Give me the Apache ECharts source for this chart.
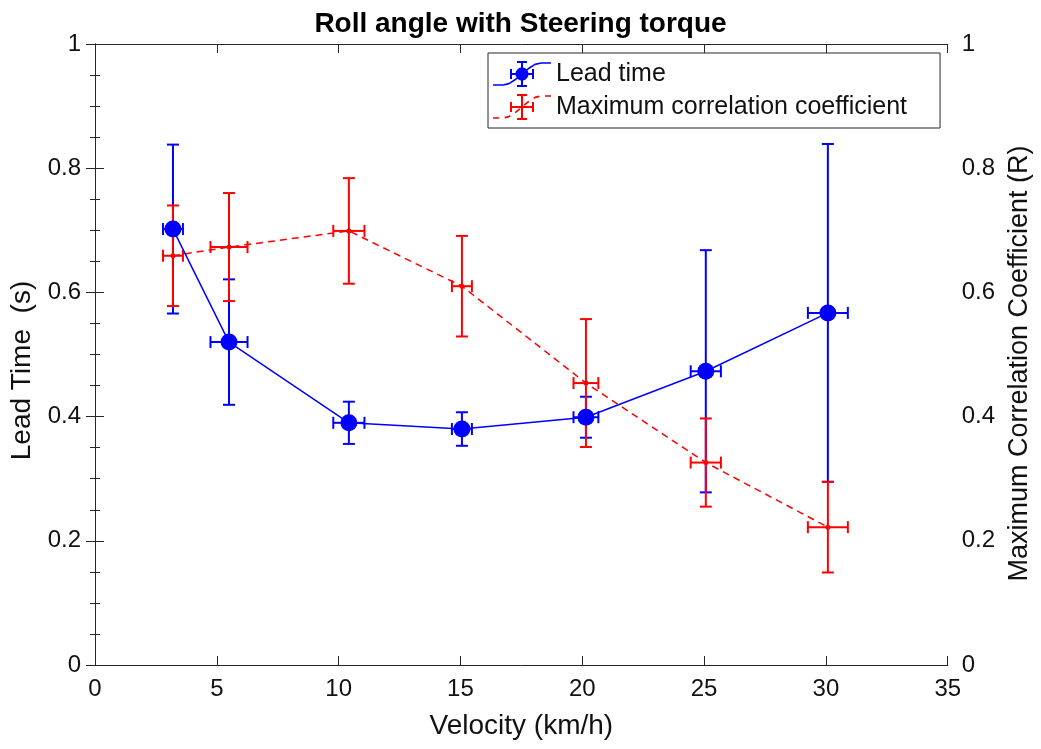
<!DOCTYPE html>
<html>
<head>
<meta charset="utf-8">
<script src="https://cdn.jsdelivr.net/npm/echarts@6/dist/echarts.min.js"></script>
<style>
  html, body { margin: 0; padding: 0; background: #fff; }
  #chart { width: 1041px; height: 749px; }
</style>
</head>
<body>
<div id="chart"></div>
<script>
// Mean velocity of each trial group (km/h) and its spread
const velocity = [3.2, 5.5, 10.42, 15.06, 20.15, 25.07, 30.08];
const velocityErr = [0.41, 0.76, 0.64, 0.41, 0.51, 0.62, 0.82];

// Lead time of roll angle relative to steering torque (s)
const leadTime = [0.702, 0.520, 0.390, 0.380, 0.399, 0.473, 0.567];
const leadTimeErr = [0.136, 0.101, 0.034, 0.027, 0.033, 0.195, 0.272];

// Maximum correlation coefficient R
const corrR = [0.659, 0.673, 0.699, 0.610, 0.454, 0.326, 0.222];
const corrRErr = [0.081, 0.087, 0.085, 0.081, 0.103, 0.071, 0.073];

const BLUE = '#0000ff';
const RED = '#ff0000';
const AXIS = '#262626';
const FONT = '"Liberation Sans", Arial, sans-serif';

function pairs(xs, ys) { return xs.map((x, i) => [x, ys[i]]); }
function errRows(xs, xe, ys, ye) { return xs.map((x, i) => [x, ys[i], xe[i], ye[i]]); }

// ---- legend glyphs: errorbar-style icons built as filled paths ----
function polyPath(pts) {
  // keep every sub-path clockwise (screen coords) so the nonzero fill unions them
  let area = 0;
  for (let i = 0; i < pts.length; i++) {
    const a = pts[i], b = pts[(i + 1) % pts.length];
    area += a[0] * b[1] - b[0] * a[1];
  }
  const p = area < 0 ? pts.slice().reverse() : pts;
  return 'M' + p.map(q => q[0].toFixed(2) + ' ' + q[1].toFixed(2)).join(' L') + ' Z ';
}
function rectPath(x, y, w, h) { return polyPath([[x, y], [x + w, y], [x + w, y + h], [x, y + h]]); }
function circlePath(cx, cy, r) {
  const pts = [];
  for (let i = 0; i < 32; i++) {
    const t = i / 32 * Math.PI * 2;
    pts.push([cx + r * Math.cos(t), cy + r * Math.sin(t)]);
  }
  return polyPath(pts);
}
function strokePolyline(pts, w) {
  let d = '';
  for (let i = 0; i < pts.length - 1; i++) {
    const p = pts[i], q = pts[i + 1];
    const dx = q[0] - p[0], dy = q[1] - p[1], len = Math.hypot(dx, dy);
    if (len < 1e-6) continue;
    const nx = -dy / len * w / 2, ny = dx / len * w / 2;
    d += polyPath([[p[0] + nx, p[1] + ny], [q[0] + nx, q[1] + ny], [q[0] - nx, q[1] - ny], [p[0] - nx, p[1] - ny]]);
  }
  return d;
}
function pointAt(pts, s) {
  for (let i = 0; i < pts.length - 1; i++) {
    const p = pts[i], q = pts[i + 1];
    const len = Math.hypot(q[0] - p[0], q[1] - p[1]);
    if (s <= len || i === pts.length - 2) {
      const t = Math.min(1, s / len);
      return [p[0] + (q[0] - p[0]) * t, p[1] + (q[1] - p[1]) * t];
    }
    s -= len;
  }
}
function subPolyline(pts, s0, s1) {
  const out = [pointAt(pts, s0)];
  let acc = 0;
  for (let i = 0; i < pts.length - 1; i++) {
    acc += Math.hypot(pts[i + 1][0] - pts[i][0], pts[i + 1][1] - pts[i][1]);
    if (acc > s0 && acc < s1) out.push(pts[i + 1]);
  }
  out.push(pointAt(pts, s1));
  return out;
}
function dashedPolyline(pts, w, dash, count) {
  let total = 0;
  for (let i = 0; i < pts.length - 1; i++) total += Math.hypot(pts[i + 1][0] - pts[i][0], pts[i + 1][1] - pts[i][1]);
  const gap = (total - count * dash) / (count - 1);
  let d = '';
  for (let k = 0; k < count; k++) {
    const s0 = k * (dash + gap);
    d += strokePolyline(subPolyline(pts, s0, s0 + dash), w);
  }
  return d;
}
const sCurve = [[0, 25], [10, 25], [16, 23.6], [22, 19.8], [29, 14], [36, 8.2], [42, 4.4], [48, 3], [58, 3]];
function crossBars() {
  return rectPath(28, 1, 2, 26) + rectPath(24, 1, 10, 2) + rectPath(24, 25, 10, 2) +
         rectPath(17, 13, 24, 2) + rectPath(17, 9, 2, 10) + rectPath(39, 9, 2, 10);
}
const leadIcon = 'path://' + strokePolyline(sCurve, 1.6) + crossBars() + circlePath(29, 14, 6.5);
const corrIcon = 'path://' + dashedPolyline(sCurve, 1.6, 6, 6) + crossBars() + circlePath(29, 14, 1.8);

// Cross-shaped error bars with caps on all four ends
function errorBarRenderer(color) {
  return function (params, api) {
    const x = api.value(0), y = api.value(1), xe = api.value(2), ye = api.value(3);
    const top = api.coord([x, y + ye]);
    const bot = api.coord([x, y - ye]);
    const lft = api.coord([x - xe, y]);
    const rgt = api.coord([x + xe, y]);
    const cap = 6;
    const st = { stroke: color, lineWidth: 2 };
    const seg = (x1, y1, x2, y2) => ({ type: 'line', shape: { x1, y1, x2, y2 }, style: st });
    return {
      type: 'group',
      children: [
        seg(top[0], top[1], bot[0], bot[1]),
        seg(top[0] - cap, top[1], top[0] + cap, top[1]),
        seg(bot[0] - cap, bot[1], bot[0] + cap, bot[1]),
        seg(lft[0], lft[1], rgt[0], rgt[1]),
        seg(lft[0], lft[1] - cap, lft[0], lft[1] + cap),
        seg(rgt[0], rgt[1] - cap, rgt[0], rgt[1] + cap)
      ]
    };
  };
}

const yAxisBase = {
  type: 'value', min: 0, max: 1, interval: 0.2,
  splitLine: { show: false },
  axisLine: { show: true, lineStyle: { color: AXIS, width: 1 } },
  axisTick: { show: true, inside: true, length: 9, lineStyle: { color: AXIS } },
  minorTick: { show: true, splitNumber: 4, length: 5, lineStyle: { color: AXIS } },
  axisLabel: { fontFamily: FONT, fontSize: 24, color: '#111', margin: 14,
               formatter: v => String(+v.toFixed(1)) },
  nameLocation: 'middle', nameRotate: 90
};

const chart = echarts.init(document.getElementById('chart'), null, { renderer: 'canvas' });
chart.setOption({
  animation: false,
  backgroundColor: '#fff',
  title: {
    text: 'Roll angle with Steering torque',
    left: 'center', top: 5,
    textStyle: { fontFamily: FONT, fontSize: 28, fontWeight: 'bold', color: '#000' }
  },
  legend: {
    left: 488, top: 53,
    orient: 'vertical',
    data: [
      { name: 'Lead time', icon: leadIcon },
      { name: 'Maximum correlation coefficient', icon: corrIcon }
    ],
    itemWidth: 58, itemHeight: 28, itemGap: 3,
    padding: [6, 33, 6, 5],
    borderColor: AXIS, borderWidth: 1, backgroundColor: '#fff',
    textStyle: { fontFamily: FONT, fontSize: 25, color: '#111', lineHeight: 30 }
  },
  grid: { left: 95, right: 93, top: 44, bottom: 84, containLabel: false },
  xAxis: [
    {
      type: 'value', min: 0, max: 35, interval: 5, position: 'bottom',
      splitLine: { show: false },
      axisLine: { show: true, onZero: false, lineStyle: { color: AXIS, width: 1 } },
      axisTick: { show: true, inside: true, length: 9, lineStyle: { color: AXIS } },
      axisLabel: { fontFamily: FONT, fontSize: 24, color: '#111', margin: 12 },
      name: 'Velocity (km/h)', nameLocation: 'middle', nameGap: 47,
      nameTextStyle: { fontFamily: FONT, fontSize: 28, color: '#111' }
    },
    {
      type: 'value', min: 0, max: 35, interval: 5, position: 'top',
      splitLine: { show: false },
      axisLine: { show: true, onZero: false, lineStyle: { color: AXIS, width: 1 } },
      axisTick: { show: true, inside: true, length: 9, lineStyle: { color: AXIS } },
      axisLabel: { show: false }
    }
  ],
  yAxis: [
    Object.assign({}, yAxisBase, {
      position: 'left', name: 'Lead Time  (s)', nameGap: 57,
      nameTextStyle: { fontFamily: FONT, fontSize: 28, color: '#111', padding: [0, 32, 0, 0] }
    }),
    Object.assign({}, yAxisBase, {
      position: 'right', name: 'Maximum Correlation Coefficient (R)', nameGap: 58,
      nameTextStyle: { fontFamily: FONT, fontSize: 27, color: '#111', padding: [0, 18, 0, 0] }
    })
  ],
  series: [
    {
      name: 'Lead time error', type: 'custom', xAxisIndex: 0, yAxisIndex: 0,
      renderItem: errorBarRenderer(BLUE), clip: false, z: 2,
      encode: { x: 0, y: 1 },
      data: errRows(velocity, velocityErr, leadTime, leadTimeErr)
    },
    {
      name: 'Correlation error', type: 'custom', xAxisIndex: 0, yAxisIndex: 1,
      renderItem: errorBarRenderer(RED), clip: false, z: 3,
      encode: { x: 0, y: 1 },
      data: errRows(velocity, velocityErr, corrR, corrRErr)
    },
    {
      name: 'Maximum correlation coefficient', type: 'line', xAxisIndex: 0, yAxisIndex: 1,
      data: pairs(velocity, corrR), z: 4,
      symbol: 'circle', symbolSize: 5,
      itemStyle: { color: RED, borderWidth: 0 },
      lineStyle: { color: RED, width: 1.5, type: [7, 5] }
    },
    {
      name: 'Lead time', type: 'line', xAxisIndex: 0, yAxisIndex: 0,
      data: pairs(velocity, leadTime), z: 5,
      symbol: 'circle', symbolSize: 17,
      itemStyle: { color: BLUE, borderWidth: 0 },
      lineStyle: { color: BLUE, width: 1.5 }
    }
  ]
});
</script>
</body>
</html>
